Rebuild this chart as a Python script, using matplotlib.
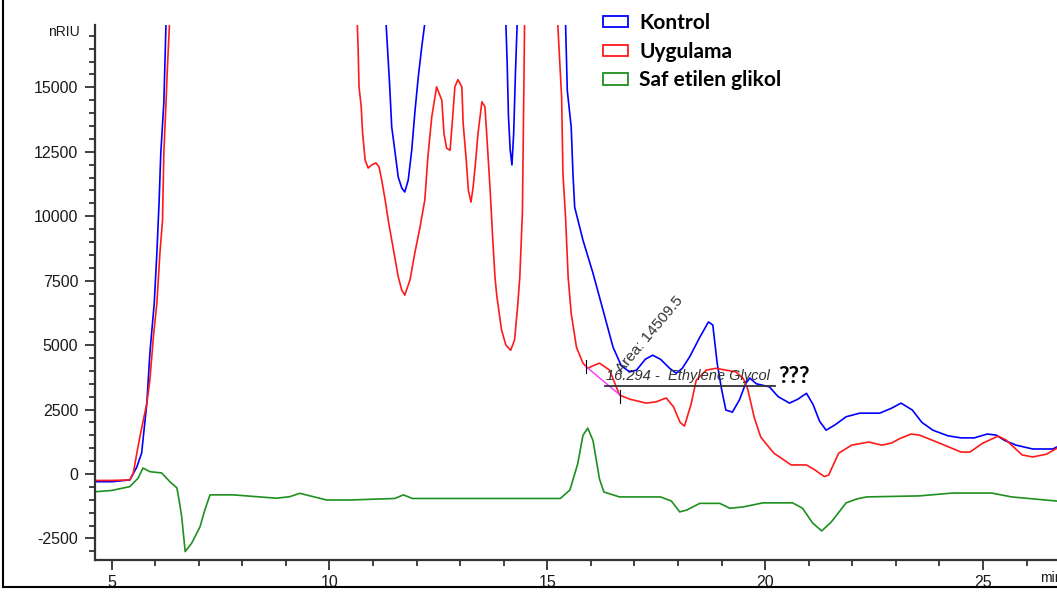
import numpy as np
import matplotlib.pyplot as plt
from matplotlib.patches import Patch
from matplotlib.lines import Line2D
from matplotlib.ticker import MultipleLocator

plt.rcParams["axes.unicode_minus"] = False

# retention time (min) / signal (nRIU); 40000 = off scale (clipped)
kontrol_t = [4.62, 5.0, 5.42, 5.58, 5.69, 5.81, 5.88, 5.98, 6.04, 6.09, 6.13, 6.20, 6.25,
             6.6, 11.0, 11.30, 11.38, 11.43, 11.50, 11.58, 11.66, 11.73, 11.81, 11.89, 11.96,
             12.04, 12.12, 12.19, 12.6, 13.8, 14.05, 14.08, 14.11, 14.15, 14.19, 14.23, 14.27,
             14.31, 14.8, 15.2, 15.42, 15.46, 15.55, 15.59, 15.63, 15.82, 16.05, 16.28, 16.51,
             16.70, 16.89, 17.05, 17.25, 17.42, 17.60, 17.81, 17.96, 18.10, 18.27, 18.50, 18.70,
             18.80, 18.90, 19.00, 19.10, 19.25, 19.41, 19.55, 19.65, 19.80, 20.10, 20.30, 20.56,
             20.75, 20.95, 21.10, 21.25, 21.40, 21.60, 21.86, 22.17, 22.63, 22.90, 23.12, 23.38,
             23.60, 23.85, 24.20, 24.50, 24.80, 25.10, 25.30, 25.50, 25.76, 26.14, 26.60, 26.70]
kontrol_y = [-300, -300, -230, 270, 810, 2750, 4700, 6630, 8570, 10510, 12450, 14400, 17490,
             40000, 40000, 17490, 15170, 13470, 12570, 11520, 11100, 10940, 11410, 12570, 14000,
             15410, 16570, 17490, 40000, 40000, 17490, 15950, 13860, 12570, 11990, 13230, 15560,
             17490, 40000, 40000, 17490, 14880, 13460, 11660, 10350, 9070, 7790, 6360, 4920,
             4200, 3960, 4030, 4450, 4610, 4450, 4100, 3910, 4100, 4550, 5300, 5900,
             5780, 4300, 3300, 2480, 2400, 2870, 3500, 3720, 3500, 3380, 3000, 2750,
             2900, 3130, 2700, 2050, 1700, 1900, 2220, 2360, 2360, 2550, 2750, 2480,
             2000, 1700, 1480, 1400, 1400, 1550, 1510, 1300, 1120, 970, 970, 1050]

uygulama_t = [4.62, 5.0, 5.42, 5.50, 5.58, 5.65, 5.73, 5.81, 5.88, 5.96, 6.04, 6.11, 6.17,
              6.20, 6.25, 6.28, 6.33, 6.7, 10.3, 10.64, 10.66, 10.68, 10.73, 10.76, 10.82,
              10.89, 10.97, 11.07, 11.14, 11.20, 11.28, 11.35, 11.43, 11.51, 11.58, 11.66, 11.73,
              11.85, 11.96, 12.08, 12.19, 12.26, 12.35, 12.46, 12.58, 12.63, 12.69, 12.77, 12.83,
              12.88, 12.95, 13.04, 13.07, 13.14, 13.19, 13.25, 13.30, 13.36, 13.41, 13.50, 13.57,
              13.61, 13.69, 13.75, 13.80, 13.84, 13.95, 14.05, 14.16, 14.25, 14.32, 14.37, 14.43,
              14.48, 14.8, 15.0, 15.24, 15.33, 15.36, 15.42, 15.48, 15.55, 15.67, 15.82, 15.93,
              16.05, 16.20, 16.43, 16.66, 16.90, 17.27, 17.50, 17.73, 17.90, 18.05, 18.15, 18.30,
              18.42, 18.65, 18.87, 19.10, 19.33, 19.50, 19.60, 19.75, 19.90, 20.20, 20.60, 20.95,
              21.14, 21.36, 21.46, 21.55, 21.69, 21.99, 22.38, 22.68, 22.90, 23.10, 23.35, 23.54,
              24.00, 24.50, 24.70, 25.00, 25.35, 25.53, 25.90, 26.14, 26.46, 26.70]
uygulama_y = [-250, -250, -230, 40, 810, 1440, 2090, 2750, 3650, 5320, 6630, 8570, 9850,
              12450, 14400, 15680, 17490, 40000, 40000, 17490, 16450, 15020, 14250, 13270, 12180,
              11870, 11990, 12070, 11910, 11410, 10630, 9850, 9080, 8300, 7650, 7140, 6940,
              7530, 8570, 9580, 10630, 12300, 13860, 15020, 14500, 13200, 12640, 12560, 13860,
              15020, 15300, 15020, 13600, 12200, 11000, 10550, 11150, 12200, 13200, 14440, 14250,
              13200, 11000, 9080, 7650, 6940, 5600, 5000, 4800, 5200, 6500, 7630, 10150,
              17490, 40000, 40000, 17490, 14620, 11660, 9960, 7630, 6230, 4920, 4300, 4100,
              4200, 4300, 4030, 3060, 2900, 2750, 2800, 2950, 2600, 2000, 1860, 2700,
              3640, 4030, 4100, 4030, 3960, 3700, 3300, 2200, 1430, 810, 350, 350,
              160, -100, -40, 300, 810, 1120, 1240, 1120, 1200, 1380, 1550, 1510,
              1200, 850, 850, 1200, 1470, 1320, 740, 660, 770, 1000]

glikol_t = [4.62, 5.0, 5.42, 5.61, 5.72, 5.88, 6.15, 6.34, 6.50, 6.55, 6.61, 6.69, 6.84,
            7.03, 7.14, 7.26, 7.79, 8.79, 9.09, 9.32, 9.63, 9.94, 10.47, 11.5, 11.7, 11.9,
            13.0, 15.3, 15.52, 15.70, 15.82, 15.93, 16.05, 16.20, 16.30, 16.66, 17.60, 17.85,
            18.04, 18.20, 18.50, 18.96, 19.19, 19.49, 19.95, 20.63, 20.86, 21.09, 21.30, 21.52,
            21.86, 22.10, 22.33, 23.54, 24.30, 25.20, 25.66, 26.70]
glikol_y = [-690, -640, -490, -160, 230, 90, 40, -300, -540, -1010, -1660, -3010, -2680,
            -2050, -1400, -810, -810, -940, -880, -750, -880, -1010, -1010, -950, -810, -950,
            -950, -950, -620, 400, 1500, 1780, 1300, -200, -700, -890, -890, -1050,
            -1470, -1400, -1140, -1140, -1330, -1280, -1120, -1120, -1330, -1900, -2210, -1860,
            -1120, -970, -890, -850, -740, -740, -890, -1050]

labels = ["Kontrol", "Uygulama", "Saf etilen glikol"]
colors = ["#0000ff", "#ff1a1a", "#1f8f1f"]

# peak annotation (integration baseline and label line)
peak_label = "16.294 -  Ethylene Glycol"
area_label = "Area: 14509.5"
base_t = [15.88, 16.68]
base_y = [4180, 3050]
line_t = [16.32, 20.22]
line_y = [3420, 3420]

fig = plt.figure(figsize=(10.57, 5.94), dpi=100)
ax = fig.add_axes([95 / 1057, 34 / 594, 962 / 1057, 535 / 594])

ax.plot(kontrol_t, kontrol_y, color=colors[0], lw=1.2)
ax.plot(uygulama_t, uygulama_y, color=colors[1], lw=1.2)
ax.plot(glikol_t, glikol_y, color=colors[2], lw=1.2)

ax.set_xlim(4.62, 26.70)
ax.set_ylim(-3337, 17420)

ax.xaxis.set_major_locator(MultipleLocator(5))
ax.xaxis.set_minor_locator(MultipleLocator(1))
ax.yaxis.set_major_locator(MultipleLocator(2500))
ax.yaxis.set_minor_locator(MultipleLocator(500))
ax.tick_params(which="major", length=7, width=1.3, color="#333333",
               labelsize=11.5, labelcolor="#1a1a1a", pad=4)
ax.tick_params(which="minor", length=4, width=1.3, color="#333333")
ax.tick_params(axis="y", pad=5)
for lab in ax.get_xticklabels() + ax.get_yticklabels():
    lab.set_fontfamily("Liberation Sans")
for s in ["top", "right"]:
    ax.spines[s].set_visible(False)
for s in ["left", "bottom"]:
    ax.spines[s].set_color("#333333")
    ax.spines[s].set_linewidth(1.6)

fig.text(80 / 1057, 1 - 32 / 594, "nRIU", ha="right", va="center",
         fontsize=10, family="Liberation Sans", color="#1a1a1a")
fig.text(1040 / 1057, 1 - 578 / 594, "min", ha="left", va="center",
         fontsize=10, family="Liberation Sans", color="#1a1a1a")

# integration marks
ax.plot(base_t, base_y, color="#ff33ff", lw=1.0)
ax.plot([base_t[0], base_t[0]], [base_y[0] - 250, base_y[0] + 250], color="k", lw=0.8)
ax.plot([base_t[1], base_t[1]], [base_y[1] - 300, base_y[1] + 200], color="k", lw=0.8)
ax.plot(line_t, line_y, color="#333333", lw=1.3)
ax.text(16.35, 3520, peak_label, fontsize=10.5, style="italic",
        family="Liberation Sans", color="#333333", ha="left", va="bottom")
ax.text(16.76, 3800, area_label, fontsize=11, rotation=50, rotation_mode="anchor",
        family="Liberation Sans", color="#333333", ha="left", va="bottom")
ax.text(20.3, 3380, "???", fontsize=16.5, weight="bold", family="Lato",
        color="black", ha="left", va="bottom")

handles = [Patch(facecolor="white", edgecolor=c, lw=1.3) for c in colors]
leg = ax.legend(handles, labels, loc="upper left", bbox_to_anchor=(603 / 1057, 1 - 13 / 594),
                bbox_transform=fig.transFigure, frameon=False, handlelength=1.2,
                handleheight=0.45, labelspacing=0.42, handletextpad=0.55,
                borderpad=0, borderaxespad=0,
                prop={"family": "Lato", "weight": "bold", "size": 15})

# outer frame of the original screenshot
fig.add_artist(Line2D([2.5 / 1057, 2.5 / 1057], [7 / 594, 1], color="k", lw=1.5))
fig.add_artist(Line2D([2.5 / 1057, 1], [7 / 594, 7 / 594], color="k", lw=1.5))

fig.savefig("out.png", dpi=100)
